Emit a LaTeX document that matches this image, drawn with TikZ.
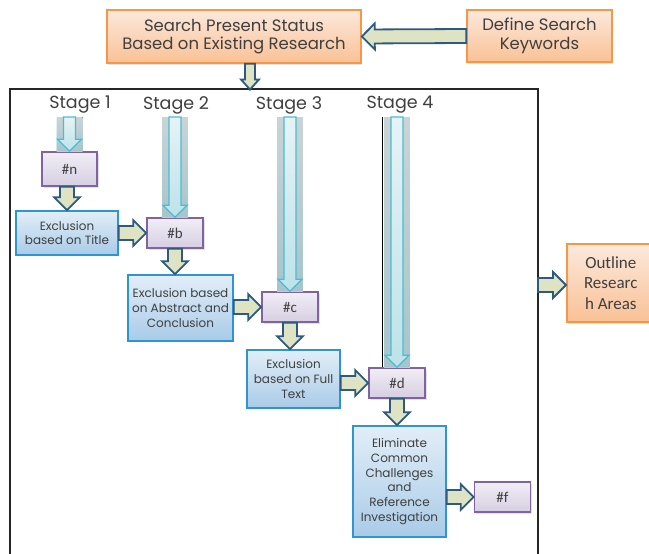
\documentclass[tikz,border=0pt]{standalone}
\usepackage{fontspec}
\setmainfont{Poppins}
\newfontfamily\calibri{Carlito}
\usetikzlibrary{calc,shadows}

\definecolor{textgray}{HTML}{3F3F3F}
\definecolor{orangeline}{HTML}{F79646}
\definecolor{orangetop}{HTML}{FCE9DC}
\definecolor{orangebot}{HTML}{F9C195}
\definecolor{blueline}{HTML}{2E95D0}
\definecolor{bluetop}{HTML}{E2EEF7}
\definecolor{bluebot}{HTML}{A9CBE8}
\definecolor{purpleline}{HTML}{8064A2}
\definecolor{purpletop}{HTML}{F1EEF5}
\definecolor{purplebot}{HTML}{D6CEE2}
\definecolor{arrowline}{HTML}{2C5A80}
\definecolor{arrowfill}{HTML}{DDE3C3}
\definecolor{stageline}{HTML}{4CBBD4}
\definecolor{stagetop}{HTML}{E6F3F5}
\definecolor{stagebot}{HTML}{BDE2E9}

\tikzset{
  boxsize/.style 2 args={minimum width=#1pt, minimum height=#2pt},
  basebox/.style={align=center, inner sep=1pt, text=textgray},
  orangebox/.style={basebox, draw=orangeline, line width=1.6pt,
    top color=orangetop, bottom color=orangebot,
    drop shadow={shadow xshift=1pt, shadow yshift=-1.5pt, fill=gray!45}},
  bluebox/.style={basebox, draw=blueline, line width=1.6pt,
    top color=bluetop, bottom color=bluebot,
    font=\fontsize{12}{14.8}\selectfont},
  hashbox/.style={basebox, draw=purpleline, line width=1.6pt,
    top color=purpletop, bottom color=purplebot, boxsize={56}{30},
    font=\calibri\fontsize{15}{17}\selectfont,
    drop shadow={shadow xshift=1.5pt, shadow yshift=-1.5pt, fill=gray!45}},
  stagelabel/.style={text=textgray, inner sep=1pt, font=\fontsize{17.5}{19}\selectfont},
  frameline/.style={line width=1.4pt, draw=black!85},
  arrowdims/.code n args={3}{\def\arrowsw{#1}\def\arrowhw{#2}\def\arrowhl{#3}},
  greenarrow/.style={draw=arrowline, fill=arrowfill, line width=1.8pt,
    line join=miter, arrowdims={7pt}{13pt}{13pt}},
  stagearrow/.style={draw=stageline, top color=stagetop, bottom color=stagebot,
    line width=1.3pt, arrowdims={6pt}{12pt}{12pt}},
  stagehaze/.style={top color=stagetop, bottom color=stagebot, opacity=0.85},
}

% block arrow from #2 to #3, sizes from arrowdims
\newcommand\blockarrow[3][]{%
  \begin{scope}[#1]
    \coordinate (ah) at ($(#3)!\arrowhl!(#2)$);
    \path[#1] ($(#2)!\arrowsw!90:(#3)$) -- ($(ah)!\arrowsw!90:(#3)$)
      -- ($(ah)!\arrowhw!90:(#3)$) -- (#3) -- ($(ah)!\arrowhw!-90:(#3)$)
      -- ($(ah)!\arrowsw!-90:(#3)$) -- ($(#2)!\arrowsw!-90:(#3)$) -- cycle;
  \end{scope}}

\begin{document}
\begin{tikzpicture}[x=1pt, y=-1pt, font=\fontsize{16.5}{18.5}\selectfont]
  \useasboundingbox (0,0) rectangle (649,554);

  % search boxes on top
  \node[orangebox, boxsize={254}{53}] (search) at (234,36.5)
    {Search Present Status\\Based on Existing Research};
  \node[orangebox, boxsize={145}{52}] (keys) at (539.5,36)
    {Define Search\\Keywords};
  \blockarrow[greenarrow]{keys.west}{search.east}

  % frame round the four stages
  \draw[frameline] (10,554) -- (10,89) -- (538,89) -- (538,554);
  \coordinate (framein) at (250,89.5);
  \coordinate (frameout) at (538,285);
  \blockarrow[greenarrow, arrowdims={5pt}{9pt}{10pt}]{search.south -| framein}{framein}

  \node[orangebox, boxsize={88}{78}, anchor=west, font=\calibri\fontsize{17}{20.5}\selectfont]
    (outline) at (566,283) {Outline\\Researc\\h Areas};
  \blockarrow[greenarrow]{frameout}{outline.west |- frameout}

  % stage labels
  \node[stagelabel] (st1) at (80,105) {Stage 1};
  \node[stagelabel] (st2) at (176,105) {Stage 2};
  \node[stagelabel] (st3) at (289,105) {Stage 3};
  \node[stagelabel] (st4) at (400,105) {Stage 4};

  % boxes of the four stages
  \node[hashbox, boxsize={55}{34}] (n) at (69.5,169) {\#n};
  \node[bluebox, boxsize={102}{44}] (title) at (67,233) {Exclusion\\based on Title};
  \node[hashbox] (b) at (175,233) {\#b};
  \node[bluebox, boxsize={105}{66}] (abstract) at (180.5,308)
    {Exclusion based\\on Abstract and\\Conclusion};
  \node[hashbox] (c) at (290,307) {\#c};
  \node[bluebox, boxsize={93}{58}] (fulltext) at (293.5,379)
    {Exclusion\\based on Full\\Text};
  \node[hashbox] (d) at (397,383) {\#d};
  \node[bluebox, boxsize={93}{111}] (elim) at (399.5,481.5)
    {Eliminate\\Common\\Challenges\\and\\Reference\\Investigation};
  \node[hashbox] (f) at (502.5,497) {\#f};

  % stage inputs
  \coordinate (in1) at (n.north |- 0,117);
  \coordinate (in2) at (b.north |- 0,117);
  \coordinate (in3) at (c.north |- 0,117);
  \coordinate (in4) at (d.north |- 0,117);
  \fill[stagehaze] ([xshift=-13pt]in1) rectangle ([xshift=13pt]n.north);
  \fill[stagehaze] ([xshift=-13pt]in2) rectangle ([xshift=13pt]b.north);
  \fill[stagehaze] ([xshift=-13pt]in3) rectangle ([xshift=13pt]c.north);
  \fill[stagehaze] ([xshift=-13pt]in4) rectangle ([xshift=13pt]d.north);
  \draw[thin] ([xshift=-15pt]in4) -- ([xshift=-15pt]d.north);
  \blockarrow[stagearrow]{in1}{n.north}
  \blockarrow[stagearrow]{in2}{b.north}
  \blockarrow[stagearrow]{in3}{c.north}
  \blockarrow[stagearrow]{in4}{d.north}

  % flow between the boxes
  \blockarrow[greenarrow]{n.south -| title.north}{title.north}
  \blockarrow[greenarrow]{title.east |- b.west}{b.west}
  \blockarrow[greenarrow]{b.south}{b.south |- abstract.north}
  \blockarrow[greenarrow]{abstract.east |- c.west}{c.west}
  \blockarrow[greenarrow]{c.south}{c.south |- fulltext.north}
  \blockarrow[greenarrow]{fulltext.east |- d.west}{d.west}
  \blockarrow[greenarrow]{d.south}{d.south |- elim.north}
  \blockarrow[greenarrow]{elim.east |- f.west}{f.west}
\end{tikzpicture}
\end{document}
